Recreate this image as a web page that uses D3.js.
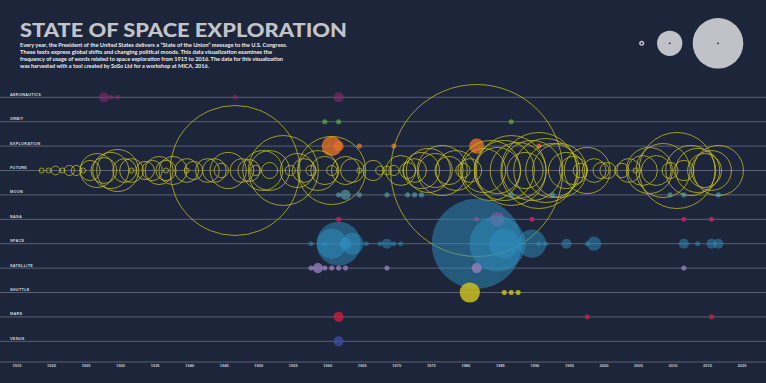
<!DOCTYPE html>
<html>
<head>
<meta charset="utf-8">
<script src="https://cdn.jsdelivr.net/npm/d3@7"></script>
<style>
  html, body { margin: 0; padding: 0; background: #1c253a; }
  svg { display: block; }
</style>
</head>
<body>
<svg id="chart" width="766" height="383"></svg>
<script>
// ---------- DATA (year, mentions) ----------
const words = ["AERONAUTICS","ORBIT","EXPLORATION","FUTURE","MOON","NASA","SPACE","SATELLITE","SHUTTLE","MARS","VENUS"];
const tickYears = [1915,1920,1925,1930,1935,1940,1945,1950,1955,1960,1965,1970,1975,1980,1985,1990,1995,2000,2005,2010,2015,2020];
const legendValues = [1, 25, 100];

const aeronautics = [[1927,4],[1928,1],[1929,1],[1946,1],[1961,4]];
const orbit = [[1959,1],[1961,1],[1986,1]];
const exploration = [[1960,16],[1961,4],[1964,1],[1969,1],[1981,9],[1990,1]];
const future = [[1918,1],[1919,1],[1920,3],[1921,1],[1922,4],[1923,4],[1924,1],[1925,16],[1926,45],[1927,26],
  [1928,51],[1929,69],[1930,22],[1931,1],[1931,22],[1933,13],[1934,16],[1935,31],[1936,1],[1936,16],[1937,31],
  [1939,1],[1939,22],[1940,13],[1942,22],[1943,22],[1944,8],[1945,51],[1946,660],[1947,22],[1948,19],[1949,4],
  [1950,62],[1951,10],[1951,62],[1953,191],[1954,4],[1955,45],[1956,22],[1957,4],[1958,62],[1959,31],[1960,4],
  [1960,181],[1962,31],[1963,22],[1964,1],[1966,16],[1967,3],[1968,3],[1969,4],[1970,35],[1971,10],[1972,22],
  [1973,51],[1974,76],[1975,45],[1976,98],[1977,31],[1978,62],[1979,8],[1980,22],[1981,1155],[1982,76],[1983,141],
  [1984,83],[1985,141],[1986,191],[1987,122],[1988,51],[1989,141],[1990,226],[1991,160],[1992,114],[1993,114],
  [1994,51],[1995,31],[1996,8],[1997,83],[1998,22],[1999,10],[2000,10],[2002,8],[2003,22],[2004,1],[2005,35],
  [2006,83],[2007,35],[2008,114],[2009,10],[2010,226],[2011,16],[2012,98],[2013,76],[2014,45],[2015,62],[2016,98]];
const moon = [[1961,1],[1962,4],[1964,1],[1968,1],[1971,1],[1972,1],[1973,1],[1986,1],[1992,1],[2009,1],[2011,1],[2016,1]];
const nasa = [[1961,1],[1981,1],[1984,8],[1989,1],[2011,1],[2015,1]];
const space = [[1957,1],[1959,1],[1960,35],[1961,76],[1962,6],[1963,19],[1965,1],[1967,1],[1968,4],[1969,1],[1970,1],
  [1981,316],[1984,122],[1985,35],[1989,31],[1990,1],[1991,1],[1994,4],[1997,1],[1998,8],[2011,4],[2013,1],[2015,4],[2016,4]];
const satellite = [[1957,1],[1958,4],[1959,1],[1960,1],[1961,1],[1962,1],[1968,1],[1981,4],[2011,1]];
const shuttle = [[1980,16],[1985,1],[1986,1],[1987,1]];
const mars = [[1961,4],[1997,1],[2015,1]];
const venus = [[1961,4]];

const seriesByWord = {
  AERONAUTICS: aeronautics, ORBIT: orbit, EXPLORATION: exploration, FUTURE: future, MOON: moon,
  NASA: nasa, SPACE: space, SATELLITE: satellite, SHUTTLE: shuttle, MARS: mars, VENUS: venus
};
const colorByWord = {
  AERONAUTICS: ["#8e2a6e", 0.55], ORBIT: ["#5fae4a", 0.7], EXPLORATION: ["#e0702a", 0.8],
  MOON: ["#5aa8b0", 0.6], NASA: ["#d4206a", 0.75], SPACE: ["#2e8fc0", 0.5],
  SATELLITE: ["#9b84c0", 0.75], SHUTTLE: ["#c8c020", 0.85], MARS: ["#c8203c", 0.8], VENUS: ["#3c4ea8", 0.75]
};

const descLines = [
  "Every year, the President of the United States delivers a \u201CState of the Union\u201D message to the U.S. Congress.",
  "These texts express global shifts and changing political moods. This data visualization examines the",
  "frequency of usage of words related to space exploration from 1915 to 2016. The data for this visualization",
  "was harvested with a tool created by SoSo Ltd for a workshop at MICA, 2016."
];
const descWidths = [267, 252, 263, 189];

// ---------- SCALES ----------
const W = 766, H = 383;
const bg = "#1c253a";
const x = d3.scaleLinear().domain([1915, 2020]).range([21, 746]);
const y = d3.scalePoint().domain(words).range([97.3, 341.3]);
const r = d3.scaleSqrt().domain([0, 100]).range([0, 25.3]);

const svg = d3.select("#chart");
svg.append("rect").attr("width", W).attr("height", H).attr("fill", bg);

// Title
svg.append("text")
  .attr("x", 20).attr("y", 36.7)
  .attr("textLength", 327).attr("lengthAdjust", "spacingAndGlyphs")
  .style("font-family", "Lato, 'Open Sans', sans-serif")
  .style("font-weight", 900).style("font-size", "19.5px")
  .attr("fill", "#c2c4ca")
  .text("STATE OF SPACE EXPLORATION");

// Description
svg.append("g").selectAll("text").data(descLines).join("text")
  .attr("x", 20).attr("y", (d, i) => 46.5 + i * 7)
  .attr("textLength", (d, i) => descWidths[i]).attr("lengthAdjust", "spacingAndGlyphs")
  .style("font-family", "Lato, 'Open Sans', sans-serif")
  .style("font-weight", 700).style("font-size", "5.2px")
  .attr("fill", "#eceef2")
  .text(d => d);

// Legend
const legendX = [641.7, 669.7, 718];
const lg = svg.append("g");
legendValues.forEach((v, i) => {
  lg.append("circle").attr("cx", legendX[i]).attr("cy", 43.3).attr("r", r(v)).attr("fill", "#c0c2c8");
  lg.append("circle").attr("cx", legendX[i]).attr("cy", 43.3).attr("r", i === 0 ? 1.1 : 0.9).attr("fill", bg);
});

// Grid lines
svg.append("g").selectAll("line").data(words).join("line")
  .attr("x1", 0).attr("x2", W)
  .attr("y1", d => y(d)).attr("y2", d => y(d))
  .attr("stroke", "#5b6172").attr("stroke-width", 1);
svg.append("line").attr("x1", 0).attr("x2", W).attr("y1", 362).attr("y2", 362)
  .attr("stroke", "#5b6172").attr("stroke-width", 1);

// Row labels
svg.append("g").selectAll("text").data(words).join("text")
  .attr("x", 10).attr("y", d => y(d) - 1.6)
  .style("font-family", "'Liberation Sans', Arial, sans-serif")
  .style("font-weight", 700).style("font-size", "3.8px")
  .style("letter-spacing", "0.3px")
  .attr("fill", "#d6d8de")
  .text(d => d);

// Bubbles
const marks = svg.append("g");
words.forEach(w => {
  const data = seriesByWord[w];
  const g = marks.append("g");
  if (w === "FUTURE") {
    g.selectAll("circle").data(data).join("circle")
      .attr("cx", d => x(d[0])).attr("cy", y(w)).attr("r", d => r(d[1]))
      .attr("fill", "none").attr("stroke", "#c8c020").attr("stroke-opacity", 0.85).attr("stroke-width", 0.9);
  } else {
    const [c, o] = colorByWord[w];
    g.selectAll("circle").data(data).join("circle")
      .attr("cx", d => x(d[0])).attr("cy", y(w)).attr("r", d => r(d[1]))
      .attr("fill", c).attr("fill-opacity", o);
  }
});

// X axis labels
const axis = d3.axisBottom(x).tickValues(tickYears).tickSize(0).tickPadding(0).tickFormat(d3.format("d"));
const ag = svg.append("g").attr("transform", "translate(0,364)").call(axis);
ag.select(".domain").remove();
ag.selectAll("text")
  .attr("text-anchor", "end").attr("dy", "3.3px")
  .style("font-family", "'Liberation Sans', Arial, sans-serif")
  .style("font-weight", 700).style("font-size", "4px")
  .attr("fill", "#c8cad0");
</script>
</body>
</html>
